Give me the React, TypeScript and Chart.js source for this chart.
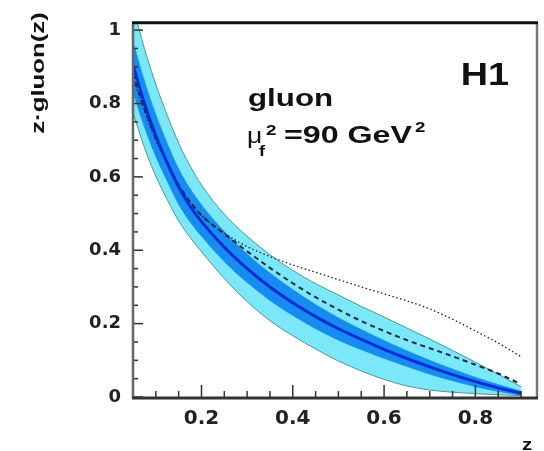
import React, { useEffect, useRef } from "react";
import { Chart, registerables } from "chart.js";

Chart.register(...registerables);

// ---- data ----
const zValues = [0.05, 0.075, 0.1, 0.125, 0.15, 0.175, 0.2, 0.25, 0.3, 0.35, 0.4, 0.45, 0.5, 0.55, 0.6, 0.65, 0.7, 0.75, 0.8, 0.85, 0.9];
const centralFit = [0.905, 0.8, 0.712, 0.638, 0.572, 0.52, 0.478, 0.408, 0.35, 0.3, 0.257, 0.219, 0.186, 0.157, 0.13, 0.105, 0.082, 0.061, 0.042, 0.025, 0.01];
const expUpper = [0.97, 0.862, 0.77, 0.692, 0.622, 0.568, 0.524, 0.451, 0.39, 0.338, 0.293, 0.252, 0.216, 0.184, 0.154, 0.126, 0.1, 0.076, 0.054, 0.034, 0.016];
const expLower = [0.83, 0.735, 0.655, 0.588, 0.525, 0.477, 0.438, 0.369, 0.312, 0.263, 0.222, 0.186, 0.155, 0.129, 0.105, 0.083, 0.062, 0.044, 0.028, 0.015, 0.005];
const totUpper = [1.065, 0.95, 0.852, 0.768, 0.692, 0.63, 0.578, 0.498, 0.438, 0.388, 0.345, 0.309, 0.278, 0.247, 0.218, 0.188, 0.158, 0.127, 0.095, 0.062, 0.028];
const totLower = [0.775, 0.68, 0.602, 0.538, 0.48, 0.435, 0.396, 0.323, 0.26, 0.208, 0.167, 0.131, 0.098, 0.071, 0.048, 0.03, 0.019, 0.013, 0.009, 0.006, 0.004];
const dashedCurve = [0.88, 0.785, 0.705, 0.638, 0.578, 0.532, 0.495, 0.445, 0.397, 0.352, 0.31, 0.272, 0.238, 0.207, 0.18, 0.155, 0.133, 0.111, 0.088, 0.064, 0.035];
const dottedCurve = [0.87, 0.78, 0.7, 0.635, 0.577, 0.532, 0.495, 0.447, 0.41, 0.383, 0.36, 0.34, 0.32, 0.3, 0.281, 0.262, 0.24, 0.212, 0.18, 0.147, 0.11];

const xMajorLabels = [0.2, 0.4, 0.6, 0.8];
const yMajorLabels = [0, 0.2, 0.4, 0.6, 0.8, 1];

const pts = (ys: number[]) => zValues.map((x, i) => ({ x, y: ys[i] }));

const isMajor = (v: number, majors: number[]) => majors.some((m) => Math.abs(m - v) < 1e-6);

function stretchedText(
  ctx: CanvasRenderingContext2D,
  text: string,
  x: number,
  y: number,
  font: string,
  sx: number,
  align: CanvasTextAlign = "left"
) {
  ctx.save();
  ctx.font = font;
  ctx.fillStyle = "#111";
  ctx.textBaseline = "alphabetic";
  ctx.textAlign = align;
  ctx.translate(x, y);
  ctx.scale(sx, 1);
  ctx.fillText(text, 0, 0);
  ctx.restore();
}

const framePlugin = {
  id: "frameAndText",
  afterDatasetsDraw(chart: any) {
    const { ctx, chartArea, scales } = chart;
    const { left, right, top, bottom } = chartArea;
    const xs = scales.x;
    const ys = scales.y;
    ctx.save();
    // tick marks (inward, ROOT style)
    ctx.strokeStyle = "#333";
    ctx.lineWidth = 1.5;
    for (let i = 0; i <= 20; i++) {
      const v = i * 0.05;
      const py = ys.getPixelForValue(v);
      const len = isMajor(v, yMajorLabels) ? 10 : 5;
      ctx.beginPath();
      ctx.moveTo(left, py);
      ctx.lineTo(left + len, py);
      ctx.stroke();
    }
    for (let i = 1; i <= 18; i++) {
      const v = i * 0.05;
      const px = xs.getPixelForValue(v);
      const len = isMajor(v, xMajorLabels) ? 12 : 6;
      ctx.beginPath();
      ctx.moveTo(px, bottom);
      ctx.lineTo(px, bottom - len);
      ctx.stroke();
    }
    // frame
    ctx.lineCap = "butt";
    ctx.strokeStyle = "#777";
    ctx.lineWidth = 2.5;
    ctx.beginPath();
    ctx.moveTo(right, top);
    ctx.lineTo(right, bottom);
    ctx.stroke();
    ctx.strokeStyle = "#666";
    ctx.lineWidth = 2.5;
    ctx.beginPath();
    ctx.moveTo(left, top);
    ctx.lineTo(left, bottom + 1);
    ctx.stroke();
    ctx.strokeStyle = "#111";
    ctx.lineWidth = 3;
    ctx.beginPath();
    ctx.moveTo(left - 1, top);
    ctx.lineTo(right + 1, top);
    ctx.stroke();
    ctx.strokeStyle = "#333";
    ctx.lineWidth = 3;
    ctx.beginPath();
    ctx.moveTo(left - 1, bottom + 1);
    ctx.lineTo(right + 1, bottom + 1);
    ctx.stroke();
    ctx.restore();

    // annotations
    stretchedText(ctx, "gluon", 248, 106, "bold 23px 'Liberation Sans'", 1.36);
    stretchedText(ctx, "\u03bc", 247, 143, "22px 'Liberation Sans'", 1.2);
    stretchedText(ctx, "f", 259, 156, "bold 15px 'Liberation Sans'", 1.2);
    stretchedText(ctx, "2", 266, 135, "bold 15px 'Liberation Sans'", 1.25);
    stretchedText(ctx, "=90 GeV", 284, 143, "bold 23px 'Liberation Sans'", 1.4);
    stretchedText(ctx, "2", 415, 132, "bold 15px 'Liberation Sans'", 1.25);
    stretchedText(ctx, "H1", 509, 85, "bold 32px 'Liberation Sans'", 1.18, "right");
    stretchedText(ctx, "z", 527, 450, "bold 17px 'Liberation Sans'", 1.2, "center");

    // y axis title, rotated
    ctx.save();
    ctx.translate(44, 73);
    ctx.rotate(-Math.PI / 2);
    ctx.scale(1.43, 1);
    ctx.font = "bold 18px 'Liberation Sans'";
    ctx.fillStyle = "#111";
    ctx.textAlign = "center";
    ctx.textBaseline = "alphabetic";
    ctx.fillText("z\u00b7gluon(z)", 0, 0);
    ctx.restore();
  },
};

export default function App() {
  const canvasRef = useRef<HTMLCanvasElement | null>(null);

  useEffect(() => {
    document.body.style.margin = "0";
    const canvas = canvasRef.current;
    if (!canvas) return;
    const cyan = "rgb(122, 232, 248)";
    const cyanEdge = "rgb(80, 150, 150)";
    const blue = "rgb(22, 140, 240)";
    const chart = new Chart(canvas, {
      type: "line",
      data: {
        datasets: [
          {
            data: pts(totUpper),
            fill: 1,
            backgroundColor: cyan,
            borderColor: cyanEdge,
            borderWidth: 1,
            pointRadius: 0,
            cubicInterpolationMode: "monotone",
            order: 10,
          },
          {
            data: pts(totLower),
            fill: false,
            borderColor: cyanEdge,
            borderWidth: 1,
            pointRadius: 0,
            cubicInterpolationMode: "monotone",
            order: 9,
          },
          {
            data: pts(expUpper),
            fill: 3,
            backgroundColor: blue,
            borderColor: blue,
            borderWidth: 0.5,
            pointRadius: 0,
            cubicInterpolationMode: "monotone",
            order: 8,
          },
          {
            data: pts(expLower),
            fill: false,
            borderColor: blue,
            borderWidth: 0.5,
            pointRadius: 0,
            cubicInterpolationMode: "monotone",
            order: 7,
          },
          {
            data: pts(dottedCurve),
            fill: false,
            borderColor: "#222",
            borderWidth: 1.3,
            borderDash: [1.5, 2.5],
            pointRadius: 0,
            cubicInterpolationMode: "monotone",
            order: 4,
          },
          {
            data: pts(dashedCurve),
            fill: false,
            borderColor: "#1d2a44",
            borderWidth: 2,
            borderDash: [5, 4],
            pointRadius: 0,
            cubicInterpolationMode: "monotone",
            order: 3,
          },
          {
            data: pts(centralFit),
            fill: false,
            borderColor: "rgb(0, 45, 215)",
            borderWidth: 3,
            pointRadius: 0,
            cubicInterpolationMode: "monotone",
            order: 2,
          },
        ],
      },
      options: {
        responsive: false,
        devicePixelRatio: 1,
        animation: false,
        layout: { padding: { top: 12, right: 7, left: 0, bottom: 0 } },
        plugins: {
          legend: { display: false },
          tooltip: { enabled: false },
        },
        scales: {
          x: {
            type: "linear",
            min: 0.05,
            max: 0.935,
            grid: { display: false, drawTicks: false },
            border: { display: false },
            ticks: {
              stepSize: 0.05,
              autoSkip: false,
              includeBounds: false,
              maxRotation: 0,
              padding: 10,
              color: "#222",
              font: { family: "'DejaVu Sans'", weight: "bold", size: 20 },
              callback: (v: any) => {
                const n = Number(v);
                return isMajor(n, xMajorLabels) ? n.toFixed(1) : "";
              },
            },
            afterFit: (s: any) => {
              s.height = 54;
            },
          },
          y: {
            type: "linear",
            min: 0,
            max: 1.02,
            grid: { display: false, drawTicks: false },
            border: { display: false },
            ticks: {
              stepSize: 0.05,
              autoSkip: false,
              includeBounds: false,
              padding: 12,
              color: "#222",
              font: { family: "'DejaVu Sans'", weight: "bold", size: 18 },
              callback: (v: any) => {
                const n = Number(v);
                if (!isMajor(n, yMajorLabels)) return "";
                if (Math.abs(n) < 1e-6) return "0";
                if (Math.abs(n - 1) < 1e-6) return "1";
                return n.toFixed(1);
              },
            },
            afterFit: (s: any) => {
              s.width = 133;
            },
          },
        },
      },
      plugins: [framePlugin],
    } as any);
    return () => chart.destroy();
  }, []);

  return <canvas ref={canvasRef} width={544} height={451} style={{ display: "block" }} />;
}
